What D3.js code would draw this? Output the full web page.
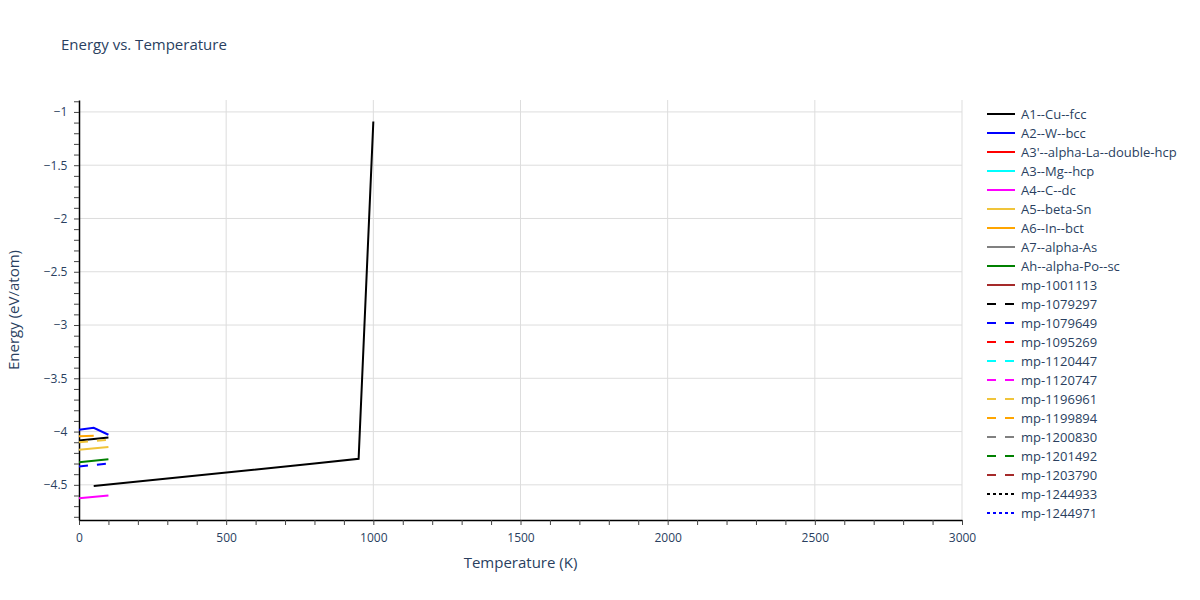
<!DOCTYPE html>
<html>
<head>
<meta charset="utf-8">
<script src="https://cdn.jsdelivr.net/npm/d3@7"></script>
<style>
  body { margin: 0; background: #fff; }
  svg text { font-family: "Open Sans", verdana, arial, sans-serif; fill: #2a3f5f; }
</style>
</head>
<body>
<svg id="chart" width="1200" height="600"></svg>
<script>
// series names, colours and dash styles (legend order)
var names = ["A1--Cu--fcc","A2--W--bcc","A3'--alpha-La--double-hcp","A3--Mg--hcp","A4--C--dc",
  "A5--beta-Sn","A6--In--bct","A7--alpha-As","Ah--alpha-Po--sc","mp-1001113",
  "mp-1079297","mp-1079649","mp-1095269","mp-1120447","mp-1120747","mp-1196961",
  "mp-1199894","mp-1200830","mp-1201492","mp-1203790","mp-1244933","mp-1244971"];
var colors = ["#000000","#0000ff","#ff0000","#00ffff","#ff00ff","#f0c43a","#ffa500","#808080","#008000","#a52a2a",
  "#000000","#0000ff","#ff0000","#00ffff","#ff00ff","#f0c43a","#ffa500","#808080","#008000","#a52a2a",
  "#000000","#0000ff"];
var dashes = ["solid","solid","solid","solid","solid","solid","solid","solid","solid","solid",
  "dash","dash","dash","dash","dash","dash","dash","dash","dash","dash","dot","dot"];

// values: temperature (K) and energy (eV/atom); null breaks a line
var temps = {
  "A1--Cu--fcc": [0, 100, null, 50, 800, 950, 1000],
  "A2--W--bcc": [0, 50, 100],
  "A4--C--dc": [0, 100],
  "A5--beta-Sn": [0, 100],
  "A6--In--bct": [0, 50],
  "Ah--alpha-Po--sc": [0, 100],
  "mp-1079649": [0, 100],
  "mp-1196961": [0, 100]
};
var energies = {
  "A1--Cu--fcc": [-4.083, -4.055, null, -4.51, -4.30, -4.255, -1.09],
  "A2--W--bcc": [-3.984, -3.965, -4.03],
  "A4--C--dc": [-4.625, -4.60],
  "A5--beta-Sn": [-4.17, -4.145],
  "A6--In--bct": [-4.045, -4.04],
  "Ah--alpha-Po--sc": [-4.287, -4.259],
  "mp-1079649": [-4.327, -4.30],
  "mp-1196961": [-4.10, -4.078]
};

var xTicks = [0, 500, 1000, 1500, 2000, 2500, 3000];
var yTicks = [-1, -1.5, -2, -2.5, -3, -3.5, -4, -4.5];

var svg = d3.select("#chart");
var pLeft = 79, pRight = 962, pTop = 100, pBottom = 520;

var x = d3.scaleLinear().domain([0, 3000]).range([pLeft, pRight]);
var y = d3.scaleLinear().domain([-4.83, -0.888]).range([pBottom, pTop]);

var dashArr = {solid: null, dash: "9,9", dot: "3,3"};

// grid
svg.append("g").selectAll("line").data(xTicks.filter(d => d > 0)).enter().append("line")
  .attr("x1", d => x(d)).attr("x2", d => x(d)).attr("y1", pTop).attr("y2", pBottom)
  .attr("stroke", "#dddddd").attr("stroke-width", 1);
svg.append("g").selectAll("line").data(yTicks).enter().append("line")
  .attr("x1", pLeft).attr("x2", pRight).attr("y1", d => y(d)).attr("y2", d => y(d))
  .attr("stroke", "#dddddd").attr("stroke-width", 1);

// minor ticks every 100 K and 0.1 eV
var minorX = d3.range(0, 3001, 100);
var minorY = d3.range(-48, -8).map(d => d / 10);

var xAxis = svg.append("g").attr("transform", "translate(0," + pBottom + ")")
  .call(d3.axisBottom(x).tickValues(minorX).tickSize(5).tickSizeOuter(0)
    .tickFormat(d => xTicks.indexOf(d) >= 0 ? d : ""));
var yAxis = svg.append("g").attr("transform", "translate(" + pLeft + ",0)")
  .call(d3.axisLeft(y).tickValues(minorY).tickSize(5).tickSizeOuter(0)
    .tickFormat(d => yTicks.some(t => Math.abs(t - d) < 1e-6) ? d3.format("~g")(d).replace("-", "\u2212") : ""));

[xAxis, yAxis].forEach(function(a) {
  a.select(".domain").attr("stroke", "#000").attr("stroke-width", 1.5);
  a.selectAll(".tick line").attr("stroke", "#444");
  a.selectAll(".tick text").attr("font-size", 12).style("fill", "#2a3f5f")
    .attr("font-family", "\"Open Sans\", verdana, arial, sans-serif");
});
xAxis.selectAll(".tick text").attr("dy", "1.2em");
yAxis.selectAll(".tick text").attr("dx", "-0.3em");

// lines
var line = d3.line()
  .defined(d => d[1] != null)
  .x(d => x(d[0])).y(d => y(d[1]));

var plot = svg.append("g");
names.forEach(function(n, i) {
  if (!temps[n]) return;
  var pts = temps[n].map((t, j) => [t, energies[n][j]]);
  plot.append("path").datum(pts)
    .attr("d", line)
    .attr("fill", "none")
    .attr("stroke", colors[i])
    .attr("stroke-width", 2)
    .attr("stroke-dasharray", dashArr[dashes[i]]);
});

// title and axis titles
svg.append("text").attr("x", 61).attr("y", 50).attr("font-size", 15).text("Energy vs. Temperature");
svg.append("text").attr("x", (pLeft + pRight) / 2).attr("y", 568).attr("text-anchor", "middle")
  .attr("font-size", 15).text("Temperature (K)");
svg.append("text").attr("transform", "translate(19," + (pTop + pBottom) / 2 + ") rotate(-90)")
  .attr("text-anchor", "middle").attr("font-size", 15).text("Energy (eV/atom)");

// legend
var leg = svg.append("g");
names.forEach(function(n, i) {
  var yy = 114 + i * 19;
  leg.append("line").attr("x1", 987).attr("x2", 1015).attr("y1", yy).attr("y2", yy)
    .attr("stroke", colors[i]).attr("stroke-width", 2)
    .attr("stroke-dasharray", dashArr[dashes[i]]);
  leg.append("text").attr("x", 1021).attr("y", yy + 4.5).attr("font-size", 13).text(n);
});
</script>
</body>
</html>
